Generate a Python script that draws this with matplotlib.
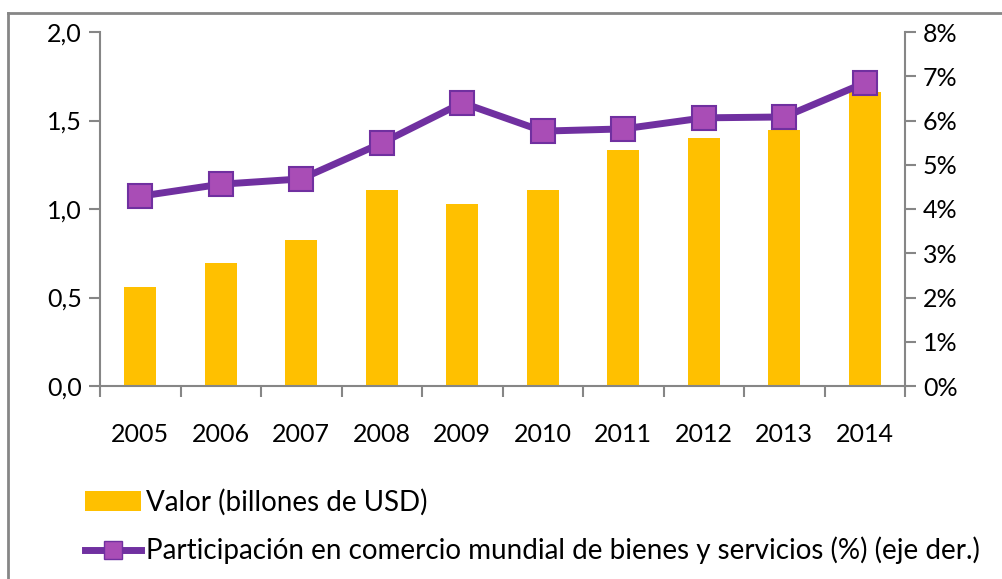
import matplotlib.pyplot as plt
from matplotlib.lines import Line2D
from matplotlib.patches import Patch
from matplotlib.ticker import FuncFormatter

plt.rcParams['font.family'] = ['Lato', 'DejaVu Sans']

# data
years = ['2005', '2006', '2007', '2008', '2009', '2010', '2011', '2012', '2013', '2014']
valor = [0.56, 0.695, 0.825, 1.105, 1.03, 1.105, 1.335, 1.40, 1.445, 1.66]
participacion = [4.29, 4.56, 4.68, 5.49, 6.40, 5.76, 5.81, 6.06, 6.08, 6.85]

bar_color = '#FFC000'
line_color = '#7030A0'
marker_face = '#A94DB6'
axis_color = '#868686'

fig = plt.figure(figsize=(10.03, 5.79), dpi=100)
ax = fig.add_axes([100 / 1003, 1 - 386 / 579, 805 / 1003, 354 / 579])
ax2 = ax.twinx()

x = range(len(years))
ax.bar(x, valor, width=0.4, color=bar_color, zorder=2)
ax2.plot(x, participacion, color=line_color, linewidth=5, marker='s', markersize=17,
         markerfacecolor=marker_face, markeredgecolor=line_color, markeredgewidth=1.5, zorder=3)

ax.set_xlim(-0.5, len(years) - 0.5)
ax.set_ylim(0, 2.0)
ax2.set_ylim(0, 8)
ax.set_yticks([0, 0.5, 1.0, 1.5, 2.0])
ax.yaxis.set_major_formatter(FuncFormatter(lambda v, p: f'{v:.1f}'.replace('.', ',')))
ax2.set_yticks(range(0, 9))
ax2.yaxis.set_major_formatter(FuncFormatter(lambda v, p: f'{int(v)}%'))

# year labels centred, ticks on category borders
ax.set_xticks([i - 0.5 for i in range(len(years) + 1)], minor=False)
ax.set_xticklabels([])
ax.set_xticks(list(x), minor=True)
ax.set_xticklabels(years, minor=True)
ax.tick_params(axis='x', which='minor', length=0, pad=27, labelsize=18)
ax.tick_params(axis='x', which='major', length=8, color=axis_color, width=1.5)
ax.tick_params(axis='y', length=8, color=axis_color, width=1.5, labelsize=18, pad=5)
ax2.tick_params(axis='y', length=8, color=axis_color, width=1.5, labelsize=18, pad=5)

for a in (ax, ax2):
    for s in a.spines.values():
        s.set_visible(False)
ax.spines['left'].set_visible(True)
ax.spines['bottom'].set_visible(True)
ax2.spines['right'].set_visible(True)
for s in (ax.spines['left'], ax.spines['bottom'], ax2.spines['right']):
    s.set_color(axis_color)
    s.set_linewidth(1.5)

# chart frame (left and top edges only visible)
fig.add_artist(Line2D([8.5 / 1003, 8.5 / 1003], [0, 1 - 13 / 579], color=axis_color, linewidth=2,
                      transform=fig.transFigure))
fig.add_artist(Line2D([8.5 / 1003, 1], [1 - 13 / 579, 1 - 13 / 579], color=axis_color, linewidth=2,
                      transform=fig.transFigure))

handles = [
    Patch(facecolor=bar_color, edgecolor='none'),
    Line2D([], [], color=line_color, linewidth=5, marker='s', markersize=13,
           markerfacecolor=marker_face, markeredgecolor=line_color),
]
labels = ['Valor (billones de USD)',
          'Participación en comercio mundial de bienes y servicios (%) (eje der.)']
fig.legend(handles, labels, loc='upper left', bbox_to_anchor=(60 / 1003, 1 - 464 / 579),
           frameon=False, fontsize=20, handlelength=2.0, handletextpad=0.2, labelspacing=0.75)

fig.savefig('out.png', dpi=100)
